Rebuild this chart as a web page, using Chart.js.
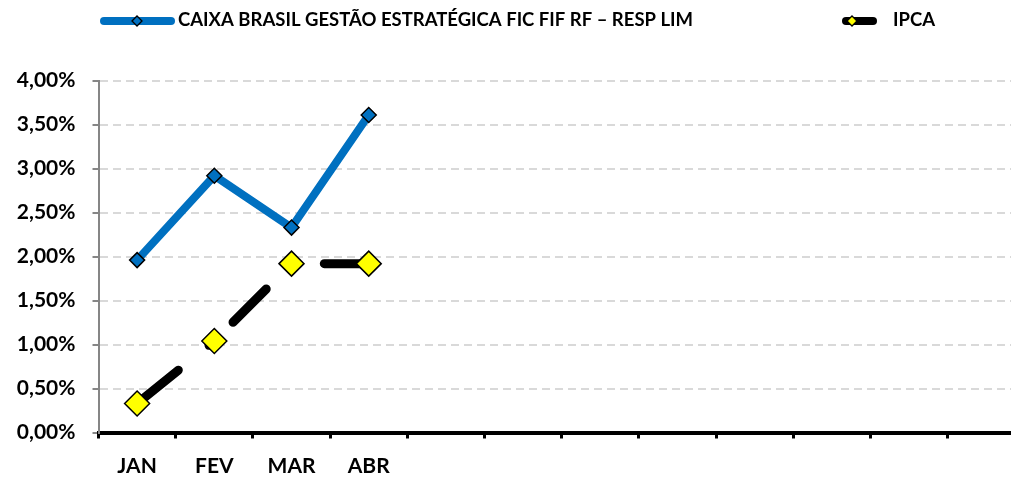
<!DOCTYPE html>
<html>
<head>
<meta charset="utf-8">
<script src="https://cdn.jsdelivr.net/npm/chart.js@4/dist/chart.umd.min.js"></script>
<style>
  html, body { margin: 0; padding: 0; overflow: hidden; background: #fff; }
  #wrap { width: 1011px; height: 477px; overflow: hidden; }
</style>
</head>
<body>
<div id="wrap"><canvas id="c" width="1040" height="477"></canvas></div>
<script>
// Month labels (only the first four months are filled in)
const months = ['JAN', 'FEV', 'MAR', 'ABR', '', '', '', '', '', '', '', ''];

// Accumulated return of the fund, % per month
const fundName = 'CAIXA BRASIL GESTÃO ESTRATÉGICA FIC FIF RF – RESP LIM';
const fundValues = [1.96, 2.92, 2.33, 3.61, null, null, null, null, null, null, null, null];

// Accumulated IPCA, % per month
const ipcaName = 'IPCA';
const ipcaValues = [0.33, 1.04, 1.92, 1.92, null, null, null, null, null, null, null, null];

// Y axis ticks
const yMin = 0, yMax = 4, yStep = 0.5;

const FONT = 'Lato';
const BLUE = '#0070C0';

// dash pattern of each IPCA segment (long dashes, restarted per segment)
const ipcaSegDash = [[53, 39.5], [47, 63.4], [60, 60]];
const ipcaSegOffset = [0, -26.5, -32.8];

const fmtPct = v => v.toFixed(2).replace('.', ',') + '%';

// Legend drawn at the top of the canvas
const topLegend = {
  id: 'topLegend',
  afterDraw(chart) {
    const ctx = chart.ctx;
    const y = 21;
    ctx.save();
    ctx.lineCap = 'round';
    // fund sample
    ctx.strokeStyle = BLUE; ctx.lineWidth = 8;
    ctx.beginPath(); ctx.moveTo(104, y); ctx.lineTo(171, y); ctx.stroke();
    diamond(ctx, 137, y, 5, BLUE);
    // IPCA sample
    ctx.strokeStyle = '#000'; ctx.lineWidth = 8;
    ctx.beginPath(); ctx.moveTo(846, y); ctx.lineTo(873, y); ctx.stroke();
    diamond(ctx, 852, y, 5, '#FFFF00');
    ctx.fillStyle = '#000';
    ctx.font = 'bold 18.5px ' + FONT;
    ctx.textBaseline = 'middle';
    ctx.textAlign = 'left';
    ctx.fillText(fundName, 178, y - 1);
    ctx.fillText(ipcaName, 893, y - 1);
    ctx.restore();
  }
};
function diamond(ctx, x, y, r, fill) {
  ctx.beginPath();
  ctx.moveTo(x - r, y); ctx.lineTo(x, y - r); ctx.lineTo(x + r, y); ctx.lineTo(x, y + r);
  ctx.closePath();
  ctx.fillStyle = fill; ctx.fill();
  ctx.lineWidth = 1.3; ctx.strokeStyle = '#000'; ctx.stroke();
}

new Chart(document.getElementById('c'), {
  type: 'line',
  data: {
    labels: months,
    datasets: [
      {
        label: fundName,
        data: fundValues,
        borderColor: BLUE,
        borderWidth: 8,
        borderCapStyle: 'round',
        borderJoinStyle: 'round',
        pointStyle: 'rectRot',
        pointRadius: 7.5,
        pointBackgroundColor: BLUE,
        pointBorderColor: '#000',
        pointBorderWidth: 1.5,
        tension: 0
      },
      {
        label: ipcaName,
        data: ipcaValues,
        borderColor: '#000',
        borderWidth: 9,
        borderCapStyle: 'round',
        pointStyle: 'rectRot',
        pointRadius: 12.5,
        pointBackgroundColor: '#FFFF00',
        pointBorderColor: '#000',
        pointBorderWidth: 1.5,
        tension: 0,
        segment: {
          borderDash: ctx => ipcaSegDash[ctx.p0DataIndex] || [],
          borderDashOffset: ctx => ipcaSegOffset[ctx.p0DataIndex] || 0
        }
      }
    ]
  },
  options: {
    responsive: false,
    animation: false,
    events: [],
    layout: { padding: { top: 80.7, right: 15, bottom: 0, left: 0 } },
    plugins: { legend: { display: false }, tooltip: { enabled: false } },
    scales: {
      x: {
        offset: true,
        afterFit: s => { s.height = 44.5; },
        border: { display: true, color: '#000', width: 4 },
        grid: {
          offset: true,
          drawOnChartArea: false,
          drawTicks: true,
          tickLength: 6,
          tickColor: '#000',
          tickWidth: 3
        },
        ticks: {
          autoSkip: false,
          maxRotation: 0,
          padding: 15,
          color: '#000',
          font: { family: FONT, size: 21, weight: 'bold' }
        }
      },
      y: {
        min: yMin,
        max: yMax,
        afterFit: s => { s.width = 98.5; },
        border: { display: true, color: '#868686', width: 2, dash: [8, 5] },
        grid: {
          color: '#d9d9d9',
          lineWidth: 2,
          tickLength: 6,
          tickColor: '#868686',
          tickWidth: 2,
          tickBorderDash: []
        },
        ticks: {
          stepSize: yStep,
          padding: 17,
          color: '#000',
          callback: v => fmtPct(v),
          font: { family: FONT, size: 21, weight: 'bold' }
        }
      }
    }
  },
  plugins: [topLegend]
});
</script>
</body>
</html>
